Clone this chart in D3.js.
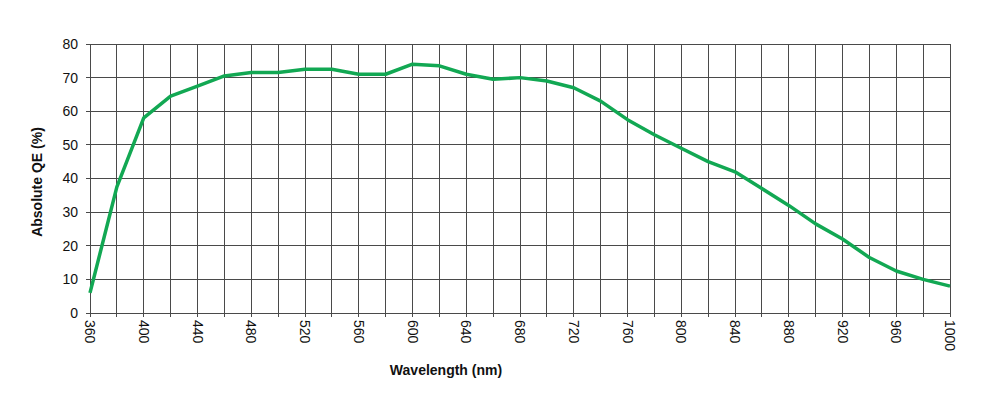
<!DOCTYPE html>
<html><head><meta charset="utf-8">
<script src="https://cdn.jsdelivr.net/npm/d3@7"></script>
<style>body{margin:0;background:#fff}svg{display:block}</style>
</head><body>
<svg id="c" width="1000" height="400"></svg>
<script>
const wavelengths = [360,380,400,420,440,460,480,500,520,540,560,580,600,620,640,660,680,700,720,740,760,780,800,820,840,860,880,900,920,940,960,980,1000];
const qeValues = [6,37.5,58,64.5,67.5,70.5,71.5,71.5,72.5,72.5,71,71,74,73.5,71,69.5,70,69,67,63,57.5,53,49,45,42,37,32,26.5,22,16.5,12.5,10,8];
const xTickLabels = [360,400,440,480,520,560,600,640,680,720,760,800,840,880,920,960,1000];
const yTickLabels = [0,10,20,30,40,50,60,70,80];
const xGrid = d3.range(360,1001,20);

const svg = d3.select('#c');
const m = {l:90, r:50, t:44, b:87};
const W = 1000, H = 400;
const x = d3.scaleLinear().domain([360,1000]).range([m.l, W-m.r]);
const y = d3.scaleLinear().domain([0,80]).range([H-m.b, m.t]);
const font = "'Liberation Sans', Arial, sans-serif";
const gridColor = '#4a4a4a';

// grid
svg.append('g').selectAll('line').data(xGrid).join('line')
  .attr('x1', d=>x(d)).attr('x2', d=>x(d))
  .attr('y1', y(80)).attr('y2', y(0)+4)
  .attr('stroke', gridColor).attr('stroke-width', 1).attr('shape-rendering','crispEdges');
svg.append('g').selectAll('line').data(yTickLabels).join('line')
  .attr('x1', x(360)-4).attr('x2', x(1000))
  .attr('y1', d=>y(d)).attr('y2', d=>y(d))
  .attr('stroke', gridColor).attr('stroke-width', 1).attr('shape-rendering','crispEdges');

// y labels
svg.append('g').selectAll('text').data(yTickLabels).join('text')
  .attr('x', x(360)-12).attr('y', d=>y(d)).attr('dy','0.35em')
  .attr('text-anchor','end').attr('font-family',font).attr('font-size',14).attr('fill','#111')
  .text(d=>d);

// x labels rotated
svg.append('g').selectAll('text').data(xTickLabels).join('text')
  .attr('transform', d=>`translate(${x(d)},${y(0)+7}) rotate(90)`)
  .attr('dy','0.35em').attr('text-anchor','start')
  .attr('font-family',font).attr('font-size',14).attr('fill','#111')
  .text(d=>d);

// titles
svg.append('text').attr('x', 446).attr('y', 375).attr('text-anchor','middle')
  .attr('font-family',font).attr('font-size',14).attr('font-weight','bold').attr('fill','#111')
  .text('Wavelength (nm)');
svg.append('text').attr('transform', `translate(42,182) rotate(-90)`)
  .attr('text-anchor','middle')
  .attr('font-family',font).attr('font-size',14).attr('font-weight','bold').attr('fill','#111')
  .text('Absolute QE (%)');

// line
const line = d3.line().x((d,i)=>x(wavelengths[i])).y(d=>y(d));
svg.append('path').datum(qeValues).attr('d', line)
  .attr('fill','none').attr('stroke','#12a853').attr('stroke-width',3.5)
  .attr('stroke-linejoin','round');
</script>
</body></html>
